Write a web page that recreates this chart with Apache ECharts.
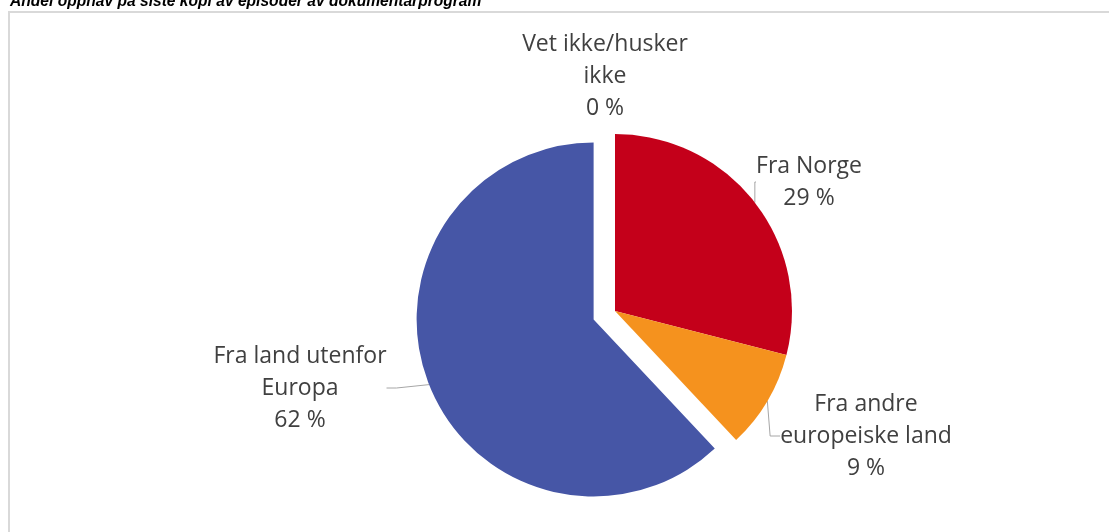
<!DOCTYPE html>
<html>
<head>
<meta charset="utf-8">
<script src="https://cdn.jsdelivr.net/npm/echarts@6/dist/echarts.min.js"></script>
<style>html,body{margin:0;padding:0;background:#fff;}#c{width:1109px;height:532px;}</style>
</head>
<body>
<div id="c"></div>
<script>
const titleText = 'Andel opphav på siste kopi av episoder av dokumentarprogram';
const categories = ['Fra Norge', 'Fra andre europeiske land', 'Fra land utenfor Europa', 'Vet ikke/husker ikke'];
const labelNames = ['Fra Norge', 'Fra andre\neuropeiske land', 'Fra land utenfor\nEuropa', 'Vet ikke/husker\nikke'];
const values = [29, 9, 62, 0];
const colors = ['#C4001A', '#F5921E', '#4656A6', '#A5A5A5'];
const explodedIndex = 2;

// label anchor positions (centre of label text block)
const labelPos = [[809, 182], [866, 436], [300, 388], [605, 76]];

const pieCenter = [615, 311];
const pieRadius = 177;
const explodeDist = 23;

// offset of the exploded slice along its mid angle
const total = values.reduce((a, b) => a + b, 0);
const before = values.slice(0, explodedIndex).reduce((a, b) => a + b, 0);
const midFrac = (before + values[explodedIndex] / 2) / total;
const midAng = midFrac * 2 * Math.PI; // clockwise from 12 o'clock
const explodedCenter = [pieCenter[0] + explodeDist * Math.sin(midAng), pieCenter[1] - explodeDist * Math.cos(midAng)];

const transparent = 'rgba(0,0,0,0)';
const labelBase = {
  show: true,
  position: 'outside',
  overflow: 'none',
  color: '#404040',
  fontFamily: '"Open Sans", sans-serif',
  fontSize: 23,
  lineHeight: 32,
  formatter: p => labelNames[p.dataIndex] + '\n' + values[p.dataIndex] + ' %'
};
const lineBase = { show: true, length: 10, length2: 10, lineStyle: { color: '#A6A6A6', width: 1 } };
const layoutFn = p => ({ x: labelPos[p.dataIndex][0], y: labelPos[p.dataIndex][1], align: 'center', verticalAlign: 'middle' });

function makeSeries(center, showIdx) {
  return {
    type: 'pie',
    center: center,
    radius: pieRadius,
    startAngle: 90,
    clockwise: true,
    avoidLabelOverlap: false,
    silent: true,
    emphasis: { disabled: true },
    itemStyle: { borderWidth: 0 },
    label: labelBase,
    labelLine: lineBase,
    labelLayout: layoutFn,
    data: categories.map((c, i) => {
      const shown = showIdx(i);
      return {
        name: c,
        value: values[i],
        itemStyle: { color: shown ? colors[i] : transparent },
        label: { show: shown },
        labelLine: { show: shown && values[i] > 0 }
      };
    })
  };
}

const chart = echarts.init(document.getElementById('c'));
chart.setOption({
  animation: false,
  graphic: [
    { type: 'rect', shape: { x: 9, y: 12, width: 1200, height: 600 }, style: { fill: 'none', stroke: '#D9D9D9', lineWidth: 2 }, silent: true },
    { type: 'text', x: 10, y: -6, style: { text: titleText, font: 'italic bold 15.6px "Liberation Sans", Arial, sans-serif', fill: '#000', textVerticalAlign: 'top' }, silent: true }
  ],
  series: [
    makeSeries(pieCenter, i => i !== explodedIndex),
    makeSeries(explodedCenter, i => i === explodedIndex)
  ]
});
</script>
</body>
</html>
